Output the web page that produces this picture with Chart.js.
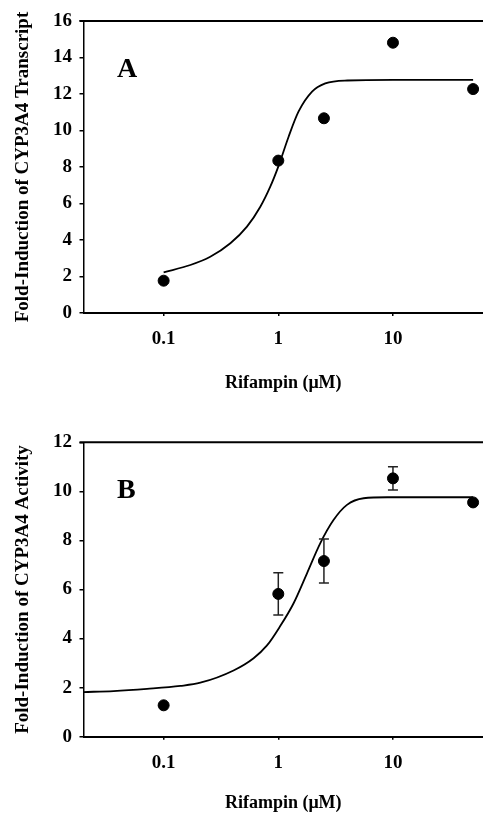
<!DOCTYPE html>
<html><head><meta charset="utf-8">
<script src="https://cdn.jsdelivr.net/npm/chart.js@4.4.0/dist/chart.umd.min.js"></script>
<style>
html,body{margin:0;padding:0;background:#fff;overflow:hidden;}
#wrapA{position:absolute;left:0;top:0;width:483px;height:410px;}
#wrapB{position:absolute;left:0;top:410px;width:483px;height:409px;}
canvas{display:block;}
</style></head><body>
<div id="wrapA"><canvas id="cA" width="483" height="410"></canvas></div>
<div id="wrapB"><canvas id="cB" width="483" height="409"></canvas></div>
<script>
// ---- data ----
const xTickValues = [0.1, 1, 10];
const xLabel = 'Rifampin (\u03BCM)';

// Panel A: CYP3A4 transcript
const concA = [0.1, 1, 2.5, 10, 50];
const foldA = [1.77, 8.35, 10.67, 14.81, 12.27];
const fitAx = [0.1, 0.171, 0.255, 0.382, 0.533, 0.697, 0.851, 1.0, 1.23, 1.5, 1.97, 2.57, 4, 10, 50];
const fitAy = [2.23, 2.63, 3.08, 3.82, 4.73, 5.82, 6.92, 8.02, 9.66, 11.03, 12.13, 12.58, 12.74, 12.77, 12.77];

// Panel B: CYP3A4 activity
const concB = [0.1, 1, 2.5, 10, 50];
const foldB = [1.28, 5.82, 7.16, 10.53, 9.55];
const errB  = [0, 0.86, 0.9, 0.47, 0];
const fitBx = [0.02, 0.0366, 0.0717, 0.14, 0.209, 0.407, 0.609, 0.797, 1.03, 1.36, 1.78, 2.32, 3.03, 3.97, 5.55, 8.9, 20, 50];
const fitBy = [1.82, 1.86, 1.95, 2.07, 2.2, 2.7, 3.2, 3.72, 4.48, 5.44, 6.66, 7.88, 8.83, 9.45, 9.72, 9.76, 9.76, 9.76];

const FONT = "'Liberation Serif', 'Times New Roman', serif";

const framePlugin = {
  id: 'frame',
  afterDraw(chart, args, opts) {
    const {ctx, chartArea: a} = chart;
    ctx.save();
    ctx.strokeStyle = '#000';
    ctx.lineWidth = 2;
    ctx.beginPath();
    ctx.moveTo(a.left - 4, a.top);
    ctx.lineTo(chart.width, a.top);
    ctx.stroke();
    ctx.font = 'bold 28px ' + FONT;
    ctx.fillStyle = '#000';
    ctx.textBaseline = 'alphabetic';
    ctx.textAlign = 'left';
    ctx.fillText(opts.letter, a.left + 33.5, a.top + 56);
    ctx.restore();
  }
};

function buildPanel(id, o) {
  const datasets = [];
  datasets.push({
    data: o.cx.map((x, i) => ({x: x, y: o.cy[i]})),
    showLine: false, pointRadius: 5.5, pointHoverRadius: 5.5,
    backgroundColor: '#000', borderColor: '#000', order: 0
  });
  if (o.err) {
    const seg = [];
    const caps = [];
    o.cx.forEach((x, i) => {
      const e = o.err[i];
      if (e > 0) {
        seg.push({x: x, y: o.cy[i] - e}, {x: x, y: o.cy[i] + e}, {x: x, y: null});
        caps.push({x: x, y: o.cy[i] - e}, {x: x, y: o.cy[i] + e});
      }
    });
    datasets.push({
      data: seg, showLine: true, spanGaps: false, pointRadius: 0,
      borderColor: '#222', borderWidth: 1.5, order: 1
    });
    datasets.push({
      data: caps, showLine: false, pointStyle: 'line', pointRadius: 5,
      borderColor: '#222', pointBorderWidth: 1.5, borderWidth: 1.5, order: 1
    });
  }
  datasets.push({
    data: o.fx.map((x, i) => ({x: x, y: o.fy[i]})),
    showLine: true, pointRadius: 0, borderColor: '#000', borderWidth: 1.8,
    cubicInterpolationMode: 'monotone', fill: false, order: 2
  });

  const H = o.height;
  return new Chart(document.getElementById(id), {
    type: 'line',
    data: {datasets: datasets},
    plugins: [framePlugin],
    options: {
      responsive: false,
      animation: false,
      events: [],
      layout: {autoPadding: false, padding: {top: o.areaTop, left: 0, right: 0, bottom: 0}},
      plugins: {legend: {display: false}, tooltip: {enabled: false}, frame: {letter: o.letter}},
      scales: {
        x: {
          type: 'logarithmic', min: 0.02, max: 61,
          afterBuildTicks: s => { s.ticks = xTickValues.map(v => ({value: v})); },
          afterFit: s => { s.height = H - o.areaBottom; s.paddingLeft = 0; s.paddingRight = 0; },
          ticks: {
            callback: v => String(v), autoSkip: false, maxRotation: 0,
            color: '#000', padding: o.xTickPad,
            font: {family: FONT, size: 19, weight: 'bold'}
          },
          grid: {display: true, drawOnChartArea: false, drawTicks: true, tickLength: 3, color: '#000', lineWidth: 1.5},
          border: {display: true, color: '#000', width: 2},
          title: {
            display: true, text: xLabel, color: '#000',
            font: {family: FONT, size: 18, weight: 'bold'},
            padding: {top: 0, bottom: o.xTitlePad}
          }
        },
        y: {
          type: 'linear', min: 0, max: o.yMax,
          afterFit: s => { s.width = 83.5; s.paddingTop = 0; s.paddingBottom = 0; },
          ticks: {
            stepSize: 2, color: '#000', padding: 7.5,
            font: {family: FONT, size: 19, weight: 'bold'}
          },
          grid: {display: true, drawOnChartArea: false, drawTicks: true, tickLength: 4, color: '#000', lineWidth: 1.5},
          border: {display: true, color: '#000', width: 1.5},
          title: {
            display: true, text: o.yLabel, color: '#000',
            font: {family: FONT, size: 19, weight: 'bold'},
            padding: {top: 11.5, bottom: 0}
          }
        }
      }
    }
  });
}

buildPanel('cA', {
  height: 410, areaTop: 21, areaBottom: 313, yMax: 16, letter: 'A',
  yLabel: 'Fold-Induction of CYP3A4 Transcript',
  cx: concA, cy: foldA, fx: fitAx, fy: fitAy,
  xTickPad: 12, xTitlePad: 16
});
buildPanel('cB', {
  height: 409, areaTop: 32.3, areaBottom: 326.7, yMax: 12, letter: 'B',
  yLabel: 'Fold-Induction of CYP3A4 Activity',
  cx: concB, cy: foldB, err: errB, fx: fitBx, fy: fitBy,
  xTickPad: 12, xTitlePad: 5
});
</script>
</body></html>
